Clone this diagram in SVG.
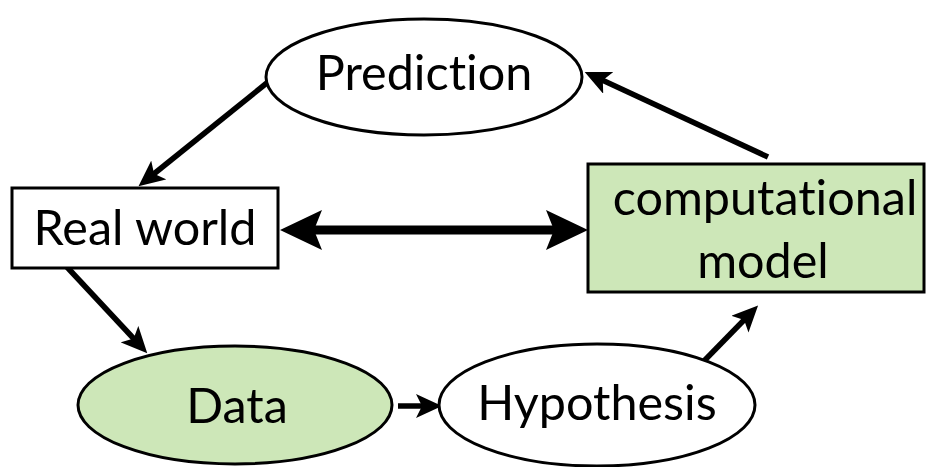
<svg xmlns="http://www.w3.org/2000/svg" width="930" height="467" viewBox="0 0 930 467">
  <style>
    .label { font-family: "Lato", "Open Sans", sans-serif; font-size: 48.5px; fill: #000; text-anchor: middle; font-variant-ligatures: none; font-feature-settings: "liga" 0, "dlig" 0; }
    .node { stroke: #000; stroke-width: 3; }
    .plain { fill: #fff; }
    .green { fill: #cde7b8; }
    .edge { stroke: #000; stroke-width: 5.5; fill: none; }
    .edge-thick { stroke: #000; stroke-width: 9; fill: none; }
  </style>
  <defs>
    <marker id="head" markerUnits="userSpaceOnUse" markerWidth="26" markerHeight="24" refX="8" refY="12" orient="auto">
      <path d="M0,0 L26,12 L0,24 L6,12 z" fill="#000"/>
    </marker>
    <marker id="head-big" markerUnits="userSpaceOnUse" markerWidth="42" markerHeight="40" refX="12" refY="20" orient="auto-start-reverse">
      <path d="M0,0 L42,20 L0,40 L8,20 z" fill="#000"/>
    </marker>
  </defs>
  <rect width="930" height="467" fill="#fff"/>

  <g id="connectors">
    <line class="edge" x1="268" y1="82" x2="152.5" y2="175" marker-end="url(#head)"/>
    <line class="edge" x1="768" y1="157" x2="601" y2="79.5" marker-end="url(#head)"/>
    <line class="edge" x1="66" y1="266" x2="135" y2="340" marker-end="url(#head)"/>
    <line class="edge" x1="398" y1="406" x2="424" y2="406" stroke-width="7" marker-end="url(#head)"/>
    <line class="edge" x1="703" y1="362" x2="745.5" y2="318.5" marker-end="url(#head)"/>
    <line class="edge-thick" x1="310" y1="230" x2="558" y2="230" marker-start="url(#head-big)" marker-end="url(#head-big)"/>
  </g>

  <g id="prediction">
    <ellipse class="node plain" cx="424" cy="77" rx="158" ry="58"/>
    <text class="label" x="424" y="90">Prediction</text>
  </g>

  <g id="real-world">
    <rect class="node plain" x="12" y="188" width="266" height="80" stroke-width="2.5"/>
    <text class="label" x="145" y="245">Real world</text>
  </g>

  <g id="computational-model">
    <rect class="node green" x="588" y="164" width="336" height="128" stroke-width="2.5"/>
    <text class="label" x="765" y="215">computational</text>
    <text class="label" x="763" y="278">model</text>
  </g>

  <g id="data">
    <ellipse class="node green" cx="235" cy="405" rx="157" ry="59"/>
    <text class="label" x="237" y="423">Data</text>
  </g>

  <g id="hypothesis">
    <ellipse class="node plain" cx="597" cy="405" rx="158" ry="61"/>
    <text class="label" x="597" y="420">Hypothesis</text>
  </g>
</svg>
